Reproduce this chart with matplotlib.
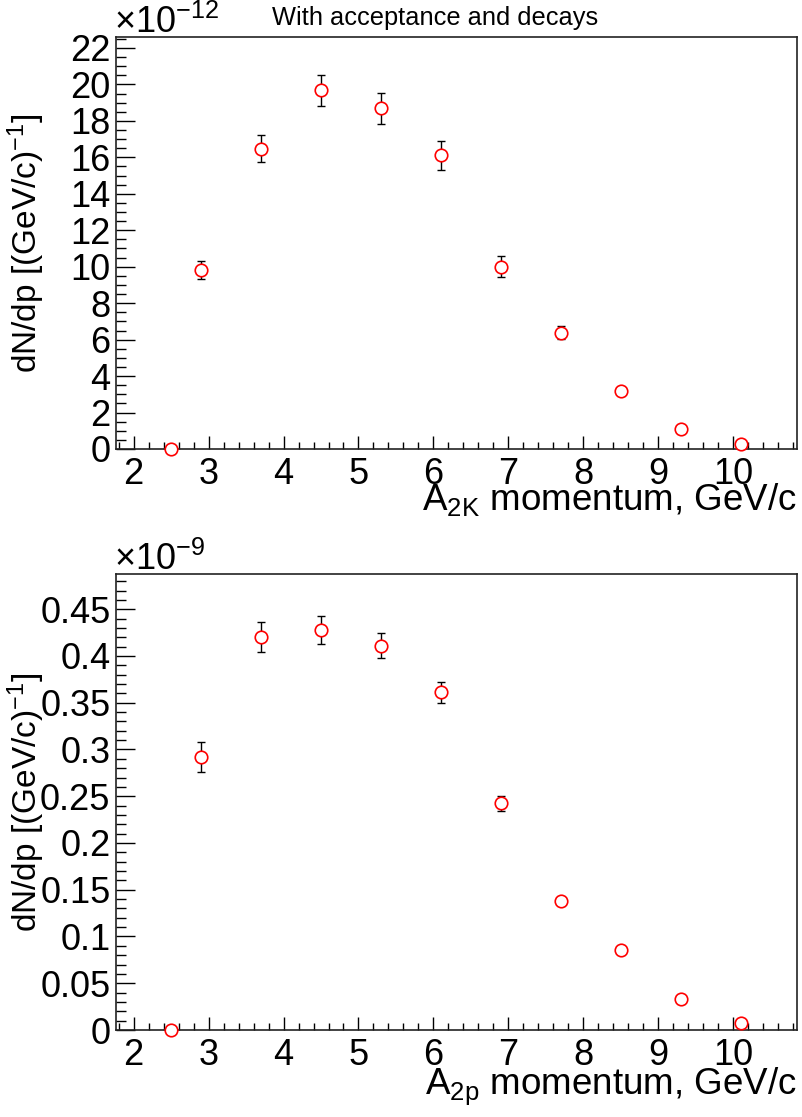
import matplotlib
matplotlib.use("Agg")
import matplotlib.pyplot as plt
import numpy as np
from matplotlib.ticker import MultipleLocator, FuncFormatter

plt.rcParams['font.family'] = ['Liberation Sans', 'DejaVu Sans']
plt.rcParams['mathtext.fontset'] = 'custom'
plt.rcParams['mathtext.rm'] = 'Liberation Sans'
plt.rcParams['mathtext.it'] = 'Liberation Sans'

# momentum bin centres, GeV/c
momentum = [2.5, 2.9, 3.7, 4.5, 5.3, 6.1, 6.9, 7.7, 8.5, 9.3, 10.1]

# A_2K spectrum (units of 1e-12)
a2k_scale = 1e-12
a2k_vals = [0.0, 9.81, 16.47, 19.69, 18.70, 16.12, 9.99, 6.37, 3.20, 1.11, 0.25]
a2k_errs = [0.0, 0.51, 0.73, 0.85, 0.85, 0.79, 0.57, 0.36, 0.20, 0.10, 0.05]

# A_2p spectrum (units of 1e-9)
a2p_scale = 1e-9
a2p_vals = [0.0, 0.2924, 0.4205, 0.428, 0.411, 0.361, 0.2426, 0.1377, 0.0854, 0.0331, 0.0078]
a2p_errs = [0.0, 0.016, 0.0163, 0.015, 0.0133, 0.0117, 0.008, 0.004, 0.003, 0.002, 0.001]

W, H = 802, 1117
fig = plt.figure(figsize=(W / 100, H / 100), dpi=100)

TICK = 26
XLAB = 26.5
YLAB = 24


def fmt(v, pos):
    return '%g' % round(v, 6)


def setup(ax, ylim, ymaj, ymin, xlabel, expo, xlab_y, expo_y):
    ax.set_xlim(1.765, 10.85)
    ax.set_ylim(*ylim)
    ax.xaxis.set_major_locator(MultipleLocator(1))
    ax.xaxis.set_minor_locator(MultipleLocator(0.2))
    ax.yaxis.set_major_locator(MultipleLocator(ymaj))
    ax.yaxis.set_minor_locator(MultipleLocator(ymin))
    ax.yaxis.set_major_formatter(FuncFormatter(fmt))
    ax.tick_params(axis='both', which='both', direction='in', width=1.0,
                   labelsize=TICK, colors='black', top=False, right=False)
    ax.tick_params(axis='y', which='major', length=14, pad=4)
    ax.tick_params(axis='y', which='minor', length=7)
    ax.tick_params(axis='x', which='major', length=9.5, pad=6)
    ax.tick_params(axis='x', which='minor', length=5)
    for s in ax.spines.values():
        s.set_linewidth(1.2)
        s.set_color('#222222')
    ax.set_xlabel(xlabel, fontsize=XLAB, ha='right', va='top')
    ax.xaxis.set_label_coords(1.0, xlab_y)
    ax.set_ylabel(r'dN/dp [(GeV/c)$^{-1}$]', fontsize=YLAB)
    ax.yaxis.set_label_coords(-0.102, 0.5)
    ax.text(-0.003, expo_y, r'$\times$10$^{%s}$' % expo, transform=ax.transAxes,
            fontsize=TICK, ha='left', va='bottom')


def draw(ax, vals, errs, scale):
    y = np.array(vals)
    e = np.array(errs)
    ax.errorbar(momentum, y, yerr=e, fmt='none', ecolor='black',
                elinewidth=1.0, capsize=2.6, capthick=1.0, zorder=2)
    ax.plot(momentum, y, 'o', ms=9, mfc='white', mec='red', mew=1.2,
            zorder=3, clip_on=False)


ax1 = fig.add_axes([116 / W, 1 - 449 / H, (797 - 116) / W, (449 - 37) / H])
draw(ax1, a2k_vals, a2k_errs, a2k_scale)
setup(ax1, (0, 22.6), 2, 0.5, r'A$_{2K}$ momentum, GeV/c', '-12', -0.078, 0.990)

ax2 = fig.add_axes([116 / W, 1 - 1030 / H, (797 - 116) / W, (1030 - 574) / H])
draw(ax2, a2p_vals, a2p_errs, a2p_scale)
setup(ax2, (0, 0.4877), 0.05, 0.01, r'A$_{2p}$ momentum, GeV/c', '-9', -0.079, 0.991)

fig.text(435 / W, 1 - 18 / H, 'With acceptance and decays', fontsize=18.3,
         ha='center', va='center')

fig.savefig('out.png', dpi=100, facecolor='white')
